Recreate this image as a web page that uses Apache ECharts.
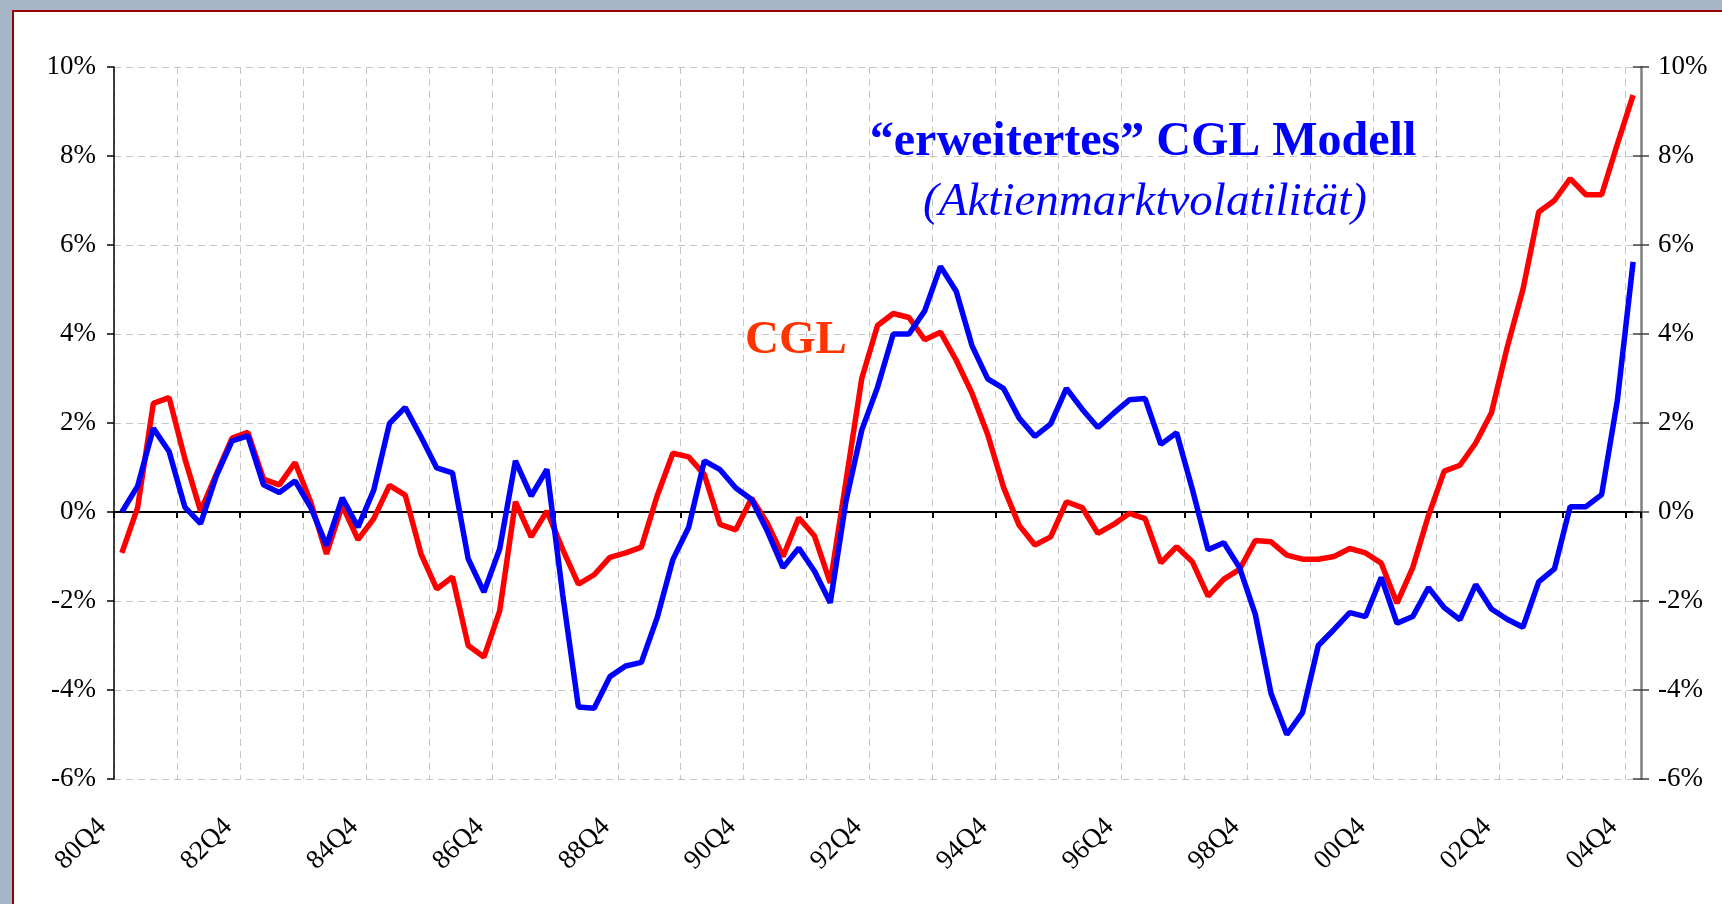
<!DOCTYPE html>
<html>
<head>
<meta charset="utf-8">
<script src="https://cdn.jsdelivr.net/npm/echarts@6/dist/echarts.min.js"></script>
<style>
  html, body { margin: 0; padding: 0; width: 1722px; height: 904px; overflow: hidden; background: #a6b6c9; }
  #panel { position: absolute; left: 12px; top: 10px; width: 1722px; height: 904px; background: #ffffff; border: 2px solid #9a0000; }
  #chart { position: absolute; left: 0; top: 0; width: 1722px; height: 904px; }
</style>
</head>
<body>
<div id="panel"></div>
<div id="chart"></div>
<script>
const categories = [
  '80Q4',
  '81Q1','81Q2','81Q3','81Q4',
  '82Q1','82Q2','82Q3','82Q4',
  '83Q1','83Q2','83Q3','83Q4',
  '84Q1','84Q2','84Q3','84Q4',
  '85Q1','85Q2','85Q3','85Q4',
  '86Q1','86Q2','86Q3','86Q4',
  '87Q1','87Q2','87Q3','87Q4',
  '88Q1','88Q2','88Q3','88Q4',
  '89Q1','89Q2','89Q3','89Q4',
  '90Q1','90Q2','90Q3','90Q4',
  '91Q1','91Q2','91Q3','91Q4',
  '92Q1','92Q2','92Q3','92Q4',
  '93Q1','93Q2','93Q3','93Q4',
  '94Q1','94Q2','94Q3','94Q4',
  '95Q1','95Q2','95Q3','95Q4',
  '96Q1','96Q2','96Q3','96Q4',
  '97Q1','97Q2','97Q3','97Q4',
  '98Q1','98Q2','98Q3','98Q4',
  '99Q1','99Q2','99Q3','99Q4',
  '00Q1','00Q2','00Q3','00Q4',
  '01Q1','01Q2','01Q3','01Q4',
  '02Q1','02Q2','02Q3','02Q4',
  '03Q1','03Q2','03Q3','03Q4',
  '04Q1','04Q2','04Q3','04Q4'
];

// CGL (red), in percent
const cglValues = [
  -0.92,
  0.10, 2.44, 2.57, 1.20,
  0.02, 0.85, 1.66, 1.79,
  0.74, 0.61, 1.11, 0.22,
  -0.94, 0.15, -0.62, -0.15,
  0.60, 0.38, -0.94, -1.73,
  -1.46, -3.00, -3.26, -2.22,
  0.23, -0.56, 0.02, -0.84,
  -1.62, -1.41, -1.02, -0.92,
  -0.79, 0.36, 1.32, 1.24,
  0.84, -0.28, -0.40, 0.31,
  -0.25, -1.00, -0.13, -0.54,
  -1.59, 0.70, 3.00, 4.19,
  4.46, 4.37, 3.87, 4.04,
  3.41, 2.67, 1.74, 0.56,
  -0.30, -0.74, -0.56, 0.23,
  0.10, -0.48, -0.28, -0.03,
  -0.15, -1.14, -0.78, -1.12,
  -1.89, -1.51, -1.29, -0.64,
  -0.67, -0.97, -1.06, -1.06,
  -1.00, -0.82, -0.92, -1.15,
  -2.05, -1.25, -0.08, 0.92,
  1.05, 1.55, 2.23, 3.70,
  5.00, 6.74, 7.00, 7.49,
  7.13, 7.13, 8.27, 9.37
];

// "erweitertes" CGL Modell (blue), in percent
const extValues = [
  0.00,
  0.58, 1.88, 1.36, 0.11,
  -0.26, 0.81, 1.60, 1.71,
  0.61, 0.44, 0.70, 0.10,
  -0.75, 0.32, -0.34, 0.49,
  1.99, 2.35, 1.69, 0.99,
  0.88, -1.05, -1.80, -0.83,
  1.15, 0.36, 0.96, -1.85,
  -4.38, -4.41, -3.70, -3.46,
  -3.38, -2.38, -1.07, -0.35,
  1.15, 0.95, 0.54, 0.28,
  -0.43, -1.25, -0.81, -1.33,
  -2.04, 0.25, 1.84, 2.80,
  4.00, 4.00, 4.52, 5.52,
  4.96, 3.74, 2.99, 2.78,
  2.11, 1.70, 1.98, 2.78,
  2.31, 1.90, 2.22, 2.52,
  2.55, 1.52, 1.78, 0.51,
  -0.85, -0.69, -1.25, -2.30,
  -4.08, -5.00, -4.51, -3.00,
  -2.64, -2.26, -2.35, -1.47,
  -2.50, -2.35, -1.70, -2.15,
  -2.42, -1.63, -2.18, -2.41,
  -2.59, -1.57, -1.28, 0.12,
  0.12, 0.39, 2.51, 5.62
];

const yTicks = [-6, -4, -2, 0, 2, 4, 6, 8, 10];

const serif = "'Liberation Serif', 'DejaVu Serif', 'Times New Roman', serif";
const yMin = yTicks[0], yMax = yTicks[yTicks.length - 1], yStep = yTicks[1] - yTicks[0];

const chart = echarts.init(document.getElementById('chart'), null, { renderer: 'canvas' });

const gridDash = { color: '#c4c4c4', width: 1, type: [7, 5] };

chart.setOption({
  backgroundColor: 'transparent',
  animation: false,
  grid: { left: 114, right: 81, top: 67, bottom: 125, containLabel: false },
  xAxis: [
    {
      type: 'category',
      data: categories,
      boundaryGap: true,
      position: 'bottom',
      axisLine: { show: false, onZero: false },
      axisTick: { show: false },
      axisLabel: {
        interval: 7,
        rotate: 45,
        margin: 24,
        padding: [0, 28, 0, 0],
        color: '#000',
        fontFamily: serif,
        fontSize: 27
      },
      splitLine: { show: true, interval: 3, lineStyle: gridDash }
    },
    {
      type: 'category',
      data: categories,
      boundaryGap: true,
      position: 'bottom',
      axisLine: { show: true, onZero: true, lineStyle: { color: '#000', width: 2 } },
      axisTick: { show: true, interval: 3, length: 6, lineStyle: { color: '#000', width: 2 } },
      axisLabel: { show: false },
      splitLine: { show: false }
    }
  ],
  yAxis: [
    {
      type: 'value',
      position: 'left',
      min: yMin, max: yMax, interval: yStep,
      axisLine: { show: true, onZero: false, lineStyle: { color: '#000', width: 1.5 } },
      axisTick: { show: true, length: 7, lineStyle: { color: '#000', width: 1.5 } },
      axisLabel: { formatter: '{value}%', margin: 18, color: '#000', fontFamily: serif, fontSize: 27 },
      splitLine: { show: true, lineStyle: gridDash }
    },
    {
      type: 'value',
      position: 'right',
      min: yMin, max: yMax, interval: yStep,
      axisLine: { show: true, onZero: false, lineStyle: { color: '#808080', width: 2.5 } },
      axisTick: { show: true, length: 8, lineStyle: { color: '#404040', width: 1.5 } },
      axisLabel: { formatter: '{value}%', margin: 17, color: '#000', fontFamily: serif, fontSize: 27 },
      splitLine: { show: false }
    },
    {
      type: 'value',
      position: 'right',
      min: yMin, max: yMax, interval: yStep,
      axisLine: { show: false, onZero: false },
      axisTick: { show: true, inside: true, length: 8, lineStyle: { color: '#404040', width: 1.5 } },
      axisLabel: { show: false },
      splitLine: { show: false }
    }
  ],
  series: [
    {
      name: 'CGL',
      type: 'line',
      xAxisIndex: 0, yAxisIndex: 0,
      data: cglValues,
      showSymbol: false,
      symbol: 'none',
      lineStyle: { color: '#ff0000', width: 5.5 },
      z: 3
    },
    {
      name: '"erweitertes" CGL Modell',
      type: 'line',
      xAxisIndex: 0, yAxisIndex: 0,
      data: extValues,
      showSymbol: false,
      symbol: 'none',
      lineStyle: { color: '#0000ff', width: 5.5 },
      z: 4
    }
  ],
  graphic: [
    {
      type: 'text', x: 1143, y: 143, z: 10,
      style: {
        text: '\u201Cerweitertes\u201D CGL Modell',
        fill: '#0000ff',
        font: "bold 48px 'Liberation Serif', 'DejaVu Serif', serif",
        textAlign: 'center', textVerticalAlign: 'middle'
      }
    },
    {
      type: 'text', x: 1145, y: 203, z: 10,
      style: {
        text: '(Aktienmarktvolatilit\u00E4t)',
        fill: '#0000ff',
        font: "italic 47px 'Liberation Serif', 'DejaVu Serif', serif",
        textAlign: 'center', textVerticalAlign: 'middle'
      }
    },
    {
      type: 'text', x: 796, y: 341, z: 10,
      style: {
        text: 'CGL',
        fill: '#ff3300',
        font: "bold 47px 'Liberation Serif', 'DejaVu Serif', serif",
        textAlign: 'center', textVerticalAlign: 'middle'
      }
    }
  ]
});
</script>
</body>
</html>
